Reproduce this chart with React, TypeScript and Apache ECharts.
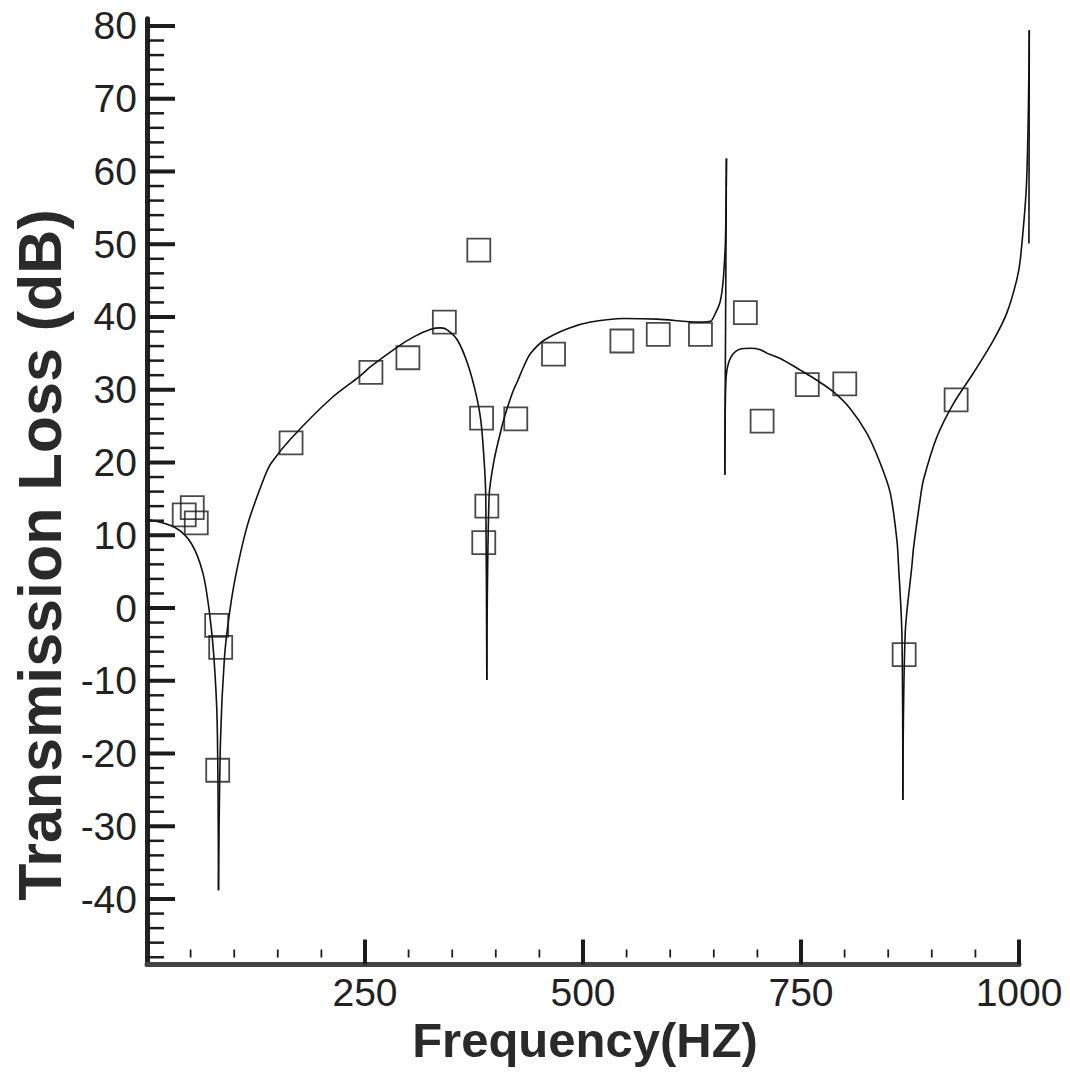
import React, { useEffect, useRef } from 'react';
import * as echarts from 'echarts';

// Predicted transmission loss curve
const curveFreq = [
  0, 31.6, 50.7, 64.1, 71.7, 76.7, 80.5, 82.0, 84.3, 88.9, 94.6, 102.3, 115.7, 134.7, 142.3,
  165.2, 211.0, 243.4, 256.8, 287.4, 306.4, 325.5, 337.0, 344.7, 356.1, 367.6, 377.1, 382.8,
  386.6, 388.5, 389.7, 392.3, 398.0, 406.5, 410.3, 419.1, 425.0, 432.4, 440.0, 455.3, 482.1,
  508.8, 546.9, 585.1, 634.7, 646.2, 651.8, 656.8, 659.6, 661.4, 663.4, 664.5, 662.6, 663.6,
  665.7, 671.4, 680.6, 692.0, 703.4, 711.4, 726.3, 749.2, 768.3, 787.3, 806.5, 825.6, 840.9,
  852.4, 860.0, 861.8, 865.7, 866.8, 869.5, 877.1, 879.0, 886.6, 890.4, 905.8, 924.8, 947.7,
  970.6, 985.9, 997.4, 1001.8, 1008.8, 1011.8, 1011.4,
];
const curveTL = [
  12.2, 11.1, 8.9, 4.8, -0.7, -6.7, -15.9, -38.8, -18.1, -6.7, -0.7, 4.8, 11.6, 18.0, 19.9,
  23.3, 28.8, 31.8, 33.2, 35.9, 37.3, 38.3, 38.5, 38.2, 36.8, 33.6, 29.5, 25.8,
  20.3, 15.3, -9.9, 15.3, 20.3, 24.7, 26.4, 29.6, 31.2, 33.3, 35.0, 36.8, 38.4,
  39.3, 39.8, 39.7, 39.3, 39.4, 40.5, 41.9, 43.7, 46.0, 50.6, 61.8, 18.3, 30.4,
  33.1, 34.8, 35.6, 35.7, 35.5, 35.0, 34.3, 32.7, 31.3, 29.7, 27.4, 24.0, 19.9,
  15.8, 9.3, 6.0, -3.5, -26.4, -3.5, 5.7, 8.2, 14.9, 17.6, 23.5, 28.1, 32.3,
  36.8, 40.5, 45.1, 48.2, 58.8, 79.4, 50.1,
];
// indices of the curve's sharp corners (dip bottoms and spike tops)
const curveCorners = [0, 7, 30, 51, 52, 71, 85, 86];

// Measured values (open squares)
const measFreq = [
  42.7, 51.9, 56.5, 79.9, 84.5, 81.1, 165.2, 256.8, 299.2, 341.0, 380.5, 383.7, 422.9,
  389.7, 386.2, 466.2, 544.6, 586.3, 634.7, 686.2, 705.4, 757.2, 800.2, 868.3, 927.9,
];
const measTL = [
  12.8, 13.8, 11.7, -2.4, -5.4, -22.3, 22.7, 32.4, 34.4, 39.3, 49.2, 26.1, 26.0,
  14.0, 9.0, 34.9, 36.7, 37.6, 37.6, 40.6, 25.7, 30.7, 30.8, -6.4, 28.6,
];

// Axis ticks
const xTickLabels = [250, 500, 750, 1000];
const xMinorTicks = [50, 100, 150, 200, 300, 350, 400, 450, 550, 600, 650, 700, 800, 850, 900, 950];
const yTickLabels = [-40, -30, -20, -10, 0, 10, 20, 30, 40, 50, 60, 70, 80];
const yMinorTicks: number[] = [];
for (let v = -48; v <= 78; v += 2) if (v % 10 !== 0) yMinorTicks.push(v);

const X_MIN = 0;
const X_MAX = 1000;
const X_MAX_EXT = 1020;
const Y_MIN = -49;
const Y_MAX = 81;

const INK = '#1c1c1c';
const FONT = '"Liberation Sans", Arial, Helvetica, sans-serif';

export default function App() {
  const ref = useRef<HTMLDivElement>(null);

  useEffect(() => {
    if (!ref.current) return;
    const chart = echarts.init(ref.current, null, { renderer: 'svg' });

    const W = 1070;
    const gridLeft = 147;
    const gridRight = 51;
    const plotW = W - gridLeft - gridRight;
    const extRight = W - gridLeft - (plotW * X_MAX_EXT) / X_MAX;

    const yTickData = [
      ...yTickLabels.map((v) => [X_MIN, v, 1]),
      ...yMinorTicks.map((v) => [X_MIN, v, 0]),
    ];
    const xTickData = [
      ...xTickLabels.map((f) => [f, Y_MIN, 1]),
      ...xMinorTicks.map((f) => [f, Y_MIN, 0]),
    ];

    const curveSeries: any[] = [];
    for (let k = 0; k < curveCorners.length - 1; k++) {
      const a = curveCorners[k];
      const b = curveCorners[k + 1];
      const pts: number[][] = [];
      for (let i = a; i <= b; i++) pts.push([curveFreq[i], curveTL[i]]);
      curveSeries.push({
        type: 'line',
        name: 'Predicted',
        xAxisIndex: 1,
        yAxisIndex: 1,
        data: pts,
        showSymbol: false,
        symbol: 'none',
        clip: false,
        smooth: pts.length > 2 ? 0.3 : false,
        lineStyle: { color: '#111', width: 1.6 },
        z: 3,
      });
    }

    const option: any = {
      animation: false,
      backgroundColor: '#ffffff',
      grid: [
        { left: gridLeft, right: gridRight, top: 18.7, bottom: 109.5, containLabel: false },
        { left: gridLeft, right: extRight, top: 18.7, bottom: 109.5, containLabel: false },
      ],
      xAxis: [
        {
          type: 'value',
          gridIndex: 0,
          min: X_MIN,
          max: X_MAX,
          interval: 250,
          axisLine: { show: true, onZero: false, lineStyle: { color: '#444', width: 5 } },
          axisTick: { show: false },
          splitLine: { show: false },
          axisLabel: {
            margin: 8,
            fontSize: 39,
            fontFamily: FONT,
            color: '#222',
            formatter: (v: number) => (xTickLabels.includes(Math.round(v)) ? String(Math.round(v)) : ''),
          },
        },
        {
          type: 'value',
          gridIndex: 1,
          min: X_MIN,
          max: X_MAX_EXT,
          show: false,
        },
      ],
      yAxis: [
        {
          type: 'value',
          gridIndex: 0,
          min: Y_MIN,
          max: Y_MAX,
          interval: 1,
          axisLine: { show: true, onZero: false, lineStyle: { color: '#222', width: 5 } },
          axisTick: { show: false },
          splitLine: { show: false },
          axisLabel: {
            margin: 10,
            fontSize: 39,
            fontFamily: FONT,
            color: '#222',
            formatter: (v: number) => (yTickLabels.includes(Math.round(v)) ? String(Math.round(v)) : ''),
          },
        },
        {
          type: 'value',
          gridIndex: 1,
          min: Y_MIN,
          max: Y_MAX,
          show: false,
        },
      ],
      graphic: [
        {
          type: 'text',
          x: 585,
          y: 1040,
          style: {
            text: 'Frequency(HZ)',
            fontSize: 49,
            fontWeight: 'bold',
            fontFamily: FONT,
            fill: '#2a2a2a',
            align: 'center',
            verticalAlign: 'middle',
          },
        },
        {
          type: 'text',
          x: 40,
          y: 555,
          rotation: Math.PI / 2,
          style: {
            text: 'Transmission Loss (dB)',
            fontSize: 61,
            fontWeight: 'bold',
            fontFamily: FONT,
            fill: '#2a2a2a',
            align: 'center',
            verticalAlign: 'middle',
          },
        },
      ],
      series: [
        ...curveSeries,
        {
          type: 'scatter',
          name: 'Measured',
          xAxisIndex: 0,
          yAxisIndex: 0,
          data: measFreq.map((f, i) => [f, measTL[i]]),
          symbol: 'rect',
          symbolSize: 23,
          itemStyle: { color: 'rgba(255,255,255,0)', borderColor: INK, borderWidth: 1.8 },
          z: 4,
        },
        {
          type: 'custom',
          name: 'yTicks',
          xAxisIndex: 0,
          yAxisIndex: 0,
          silent: true,
          clip: false,
          data: yTickData,
          encode: { x: 0, y: 1 },
          renderItem: (_p: any, api: any) => {
            const major = api.value(2) === 1;
            const pt = api.coord([api.value(0), api.value(1)]);
            const len = major ? 28 : 17;
            return {
              type: 'line',
              shape: { x1: pt[0], y1: pt[1], x2: pt[0] + len, y2: pt[1] },
              style: { stroke: INK, lineWidth: major ? 4 : 2.5 },
            };
          },
          z: 5,
        },
        {
          type: 'custom',
          name: 'xTicks',
          xAxisIndex: 0,
          yAxisIndex: 0,
          silent: true,
          clip: false,
          data: xTickData,
          encode: { x: 0, y: 1 },
          renderItem: (_p: any, api: any) => {
            const major = api.value(2) === 1;
            const pt = api.coord([api.value(0), api.value(1)]);
            const y1 = major ? pt[1] : pt[1] - 7;
            const y2 = major ? pt[1] - 25 : pt[1] - 15;
            return {
              type: 'line',
              shape: { x1: pt[0], y1, x2: pt[0], y2 },
              style: { stroke: INK, lineWidth: major ? 4 : 1.8 },
            };
          },
          z: 5,
        },
      ],
    };

    chart.setOption(option);
    return () => chart.dispose();
  }, []);

  return (
    <div
      ref={ref}
      style={{ position: 'fixed', left: 0, top: 0, width: 1070, height: 1074, background: '#fff' }}
    />
  );
}
